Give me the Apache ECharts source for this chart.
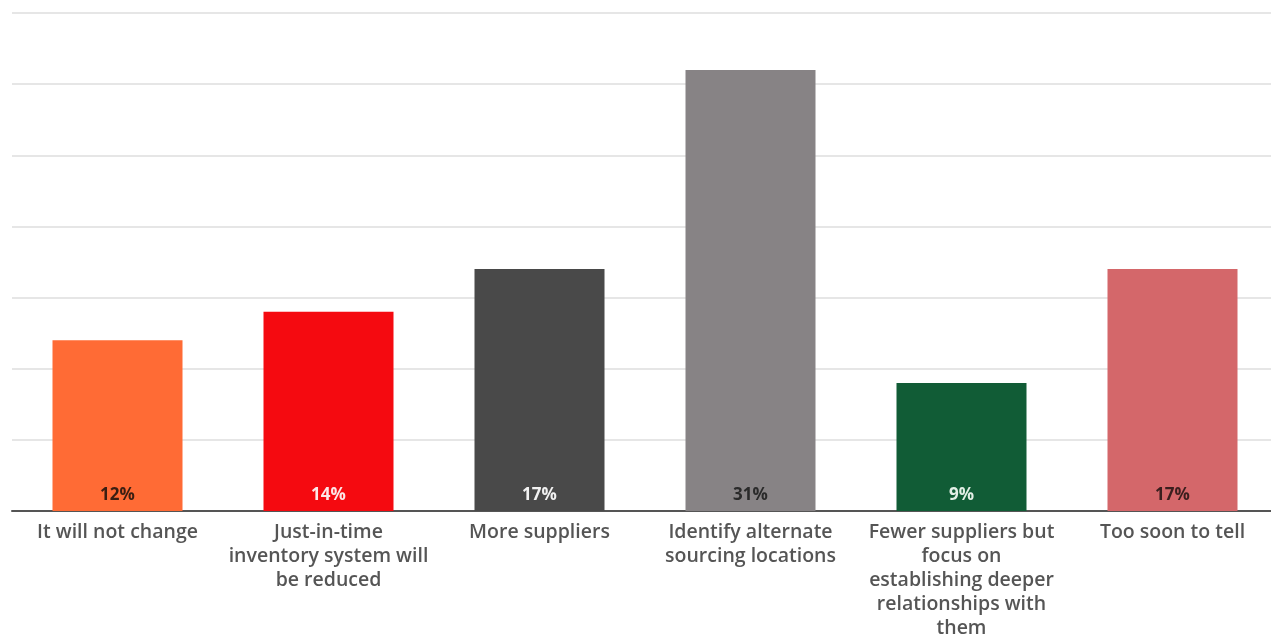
<!DOCTYPE html>
<html>
<head>
<meta charset="utf-8">
<script src="https://cdn.jsdelivr.net/npm/echarts@6/dist/echarts.min.js"></script>
<style>
  html, body { margin: 0; padding: 0; background: #ffffff; overflow: hidden; }
  #chart { width: 1290px; height: 637px; }
</style>
</head>
<body>
<div id="chart"></div>
<script>
// Survey responses: how supply chains will change
const categories = [
  'It will not change',
  'Just-in-time\ninventory system will\nbe reduced',
  'More suppliers',
  'Identify alternate\nsourcing locations',
  'Fewer suppliers but\nfocus on\nestablishing deeper\nrelationships with\nthem',
  'Too soon to tell'
];
const values = [12, 14, 17, 31, 9, 17];
const barColors = ['#FF6B35', '#F50A10', '#494949', '#878385', '#115C36', '#D4676A'];
const labelColors = ['#3a1e12', '#fde8e8', '#f2f2f2', '#2a2a2a', '#e3efe6', '#3a1e1e'];

const chart = echarts.init(document.getElementById('chart'));
chart.setOption({
  animation: false,
  grid: {
    left: 12, top: 13, width: 1266, height: 498,
    containLabel: false,
    outerBoundsMode: 'none'
  },
  xAxis: {
    type: 'category',
    data: categories,
    axisLine: { lineStyle: { color: '#555555', width: 2 } },
    axisTick: { show: false },
    axisLabel: {
      interval: 0,
      margin: 9,
      color: '#555555',
      fontFamily: 'Open Sans',
      fontWeight: 600,
      fontSize: 19.5,
      lineHeight: 24
    }
  },
  yAxis: {
    type: 'value',
    min: 0,
    max: 35,
    interval: 5,
    axisLabel: { show: false },
    axisLine: { show: false },
    axisTick: { show: false },
    splitLine: { lineStyle: { color: '#e6e6e6', width: 2 } }
  },
  series: [{
    type: 'bar',
    barWidth: 130,
    data: values.map((v, i) => ({
      value: v,
      itemStyle: { color: barColors[i] },
      label: { color: labelColors[i] }
    })),
    label: {
      show: true,
      position: 'insideBottom',
      distance: 7,
      formatter: '{c}%',
      fontFamily: 'Open Sans',
      fontWeight: 'bold',
      fontSize: 17
    }
  }]
});
</script>
</body>
</html>
